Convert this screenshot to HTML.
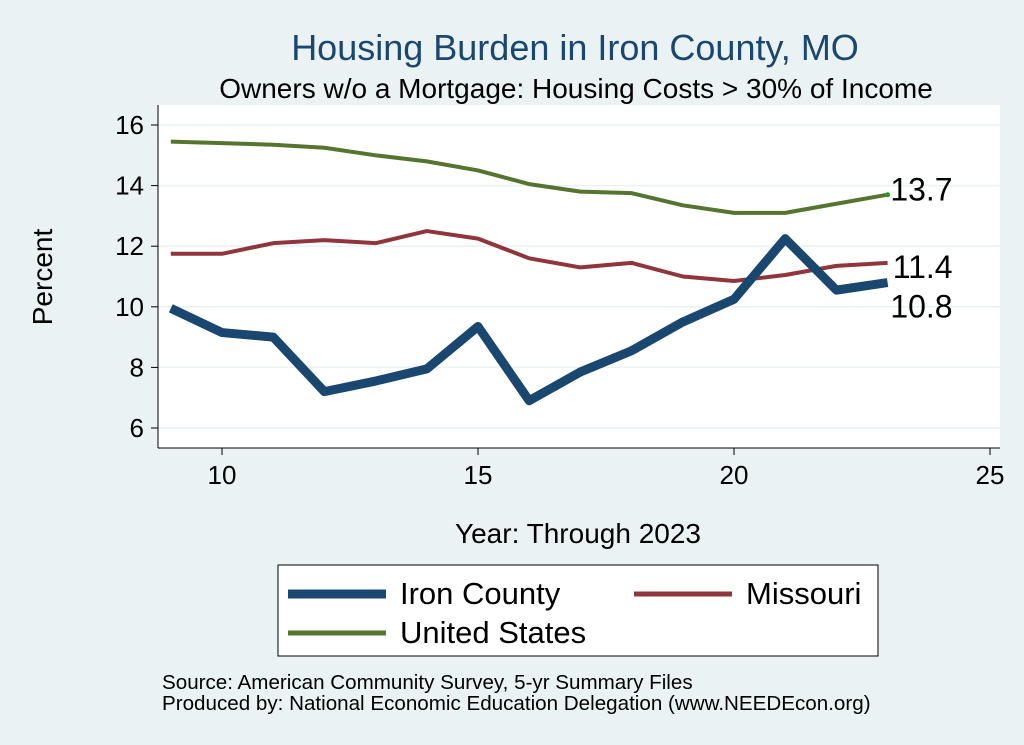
<!DOCTYPE html>
<html><head><meta charset="utf-8"><style>
body{margin:0;background:#eaf2f3;}
svg{display:block;font-family:"Liberation Sans",sans-serif;}
</style></head><body>
<svg width="1024" height="745" viewBox="0 0 1024 745">
<rect x="0" y="0" width="1024" height="745" fill="#eaf2f3"/>
<text x="575" y="60" text-anchor="middle" font-size="36" fill="#1a476f">Housing Burden in Iron County, MO</text>
<text x="576" y="98" text-anchor="middle" font-size="28" fill="#000">Owners w/o a Mortgage: Housing Costs &gt; 30% of Income</text>
<rect x="158" y="105" width="842" height="343" fill="#fff"/>
<g id="grid"></g><g id="axes"></g><g id="series"></g>
<text x="52" y="277" text-anchor="middle" font-size="28" transform="rotate(-90 52 277)">Percent</text>
<text x="578" y="543" text-anchor="middle" font-size="28">Year: Through 2023</text>
<g>
<rect x="278" y="565" width="600" height="91" fill="#fff" stroke="#000" stroke-width="1"/>
<g><line x1="288" y1="594" x2="386" y2="594" stroke="#1a476f" stroke-width="9"/><text x="400" y="604" font-size="31">Iron County</text></g>
<g><line x1="634" y1="594" x2="732" y2="594" stroke="#90353b" stroke-width="5"/><text x="746" y="604" font-size="31">Missouri</text></g>
<g><line x1="288" y1="633" x2="386" y2="633" stroke="#55752f" stroke-width="5"/><text x="400" y="643" font-size="31">United States</text></g>
</g>
<text x="162" y="689" font-size="20.6">Source: American Community Survey, 5-yr Summary Files</text>
<text x="162" y="710" font-size="20.6">Produced by: National Economic Education Delegation (www.NEEDEcon.org)</text>
</svg>
<script>
const years=[9,10,11,12,13,14,15,16,17,18,19,20,21,22,23];
const ironCounty=[9.95,9.15,9.0,7.2,7.55,7.95,9.35,6.9,7.85,8.55,9.5,10.25,12.25,10.55,10.8];
const missouri=[11.75,11.75,12.1,12.2,12.1,12.5,12.25,11.6,11.3,11.45,11.0,10.85,11.05,11.35,11.45];
const unitedStates=[15.45,15.4,15.35,15.25,15.0,14.8,14.5,14.05,13.8,13.75,13.35,13.1,13.1,13.4,13.7];
const yTicks=[6,8,10,12,14,16];
const xTicks=[10,15,20,25];
const endLabels=["10.8","11.4","13.7"];
const NS="http://www.w3.org/2000/svg";
const xs=v=>222+(v-10)*51.2;
const ys=v=>125+(16-v)*30.3;
function mk(tag,attrs,parent){const e=document.createElementNS(NS,tag);for(const k in attrs)e.setAttribute(k,attrs[k]);document.getElementById(parent).appendChild(e);return e;}
let e=mk('line',{x1:158,y1:105,x2:158,y2:448,stroke:'#000'},'axes');


e=mk('line',{x1:158,y1:448,x2:1000,y2:448,stroke:'#000'},'axes');


yTicks.forEach(t=>{
 const g=mk('line',{x1:158,x2:1000,y1:ys(t),y2:ys(t),stroke:'#eaf2f3','stroke-width':1.5},'grid');
 
 
 mk('line',{x1:151,x2:158,y1:ys(t),y2:ys(t),stroke:'#000'},'axes');
 const tx=mk('text',{x:144,y:ys(t)+9,'text-anchor':'end','font-size':26},'axes');
 tx.textContent=t;
 
 
});
xTicks.forEach(t=>{
 mk('line',{x1:xs(t),x2:xs(t),y1:448,y2:455,stroke:'#000'},'axes');
 const tx=mk('text',{x:xs(t),y:484,'text-anchor':'middle','font-size':26},'axes');
 tx.textContent=t;
 
 
});
function line(vals,color,w,name){
 const p=mk('polyline',{points:vals.map((v,i)=>xs(years[i])+','+ys(v)).join(' '),fill:'none',stroke:color,'stroke-width':w,'stroke-linejoin':'round'},'series');
 
 
}
line(unitedStates,'#55752f',4,'line-united-states');
line(missouri,'#90353b',4,'line-missouri');
line(ironCounty,'#1a476f',9,'line-iron-county');
const last=years.length-1;
mk('circle',{cx:xs(years[last]),cy:ys(unitedStates[last]),r:2.5,fill:'#2a9a2a'},'series');
const lbl=[[ironCounty[last],24,'label-iron-county'],[missouri[last],4,'label-missouri'],[unitedStates[last],-5,'label-united-states']];
lbl.forEach((l,i)=>{
 const tx=mk('text',{x:xs(years[last])+65,y:ys(l[0])+l[1]+11,'font-size':32,'text-anchor':'end'},'series');
 tx.textContent=endLabels[i];
 
 
});
</script>
</body></html>
